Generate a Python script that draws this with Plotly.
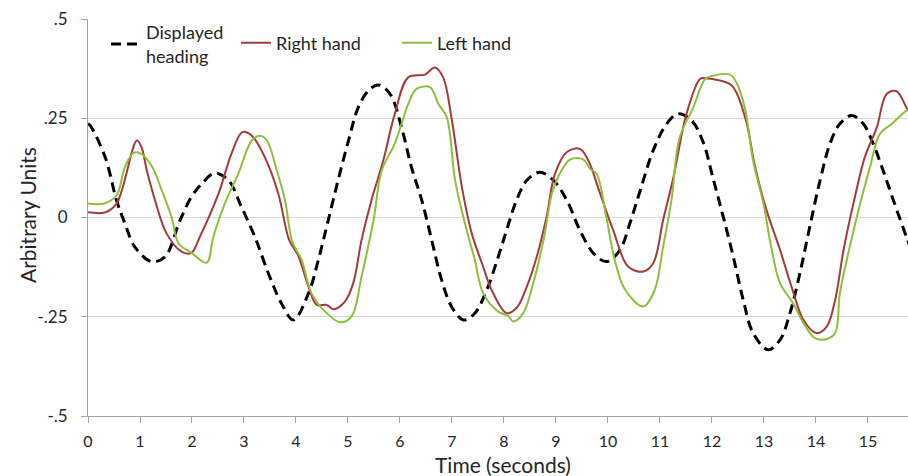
import plotly.graph_objects as go

# ---------------- data ----------------
heading_t = [0.0, 0.04, 0.33, 0.55, 0.71, 0.90, 1.22, 1.48, 1.77, 1.99, 2.19, 2.44, 2.70, 2.95,
             3.21, 3.47, 3.72, 3.95, 4.24, 4.43, 4.62, 4.81, 5.01, 5.20, 5.39, 5.58, 5.81,
             6.03, 6.22, 6.42, 6.61, 6.80, 6.99, 7.22, 7.44, 7.67, 7.89, 8.06, 8.24, 8.44,
             8.69, 8.95, 9.21, 9.46, 9.72, 9.97, 10.23, 10.42, 10.62, 10.87, 11.13, 11.35,
             11.61, 11.83, 12.03, 12.22, 12.41, 12.60, 12.79, 13.08, 13.31, 13.50, 13.69,
             13.88, 14.08, 14.27, 14.46, 14.69, 14.91, 15.10, 15.29, 15.49, 15.74, 15.80]
heading_v = [0.236, 0.232, 0.152, 0.043, -0.015, -0.074, -0.111, -0.099, -0.007, 0.052, 0.085,
             0.112, 0.094, 0.027, -0.049, -0.141, -0.216, -0.258, -0.191, -0.107, -0.007,
             0.094, 0.194, 0.278, 0.319, 0.334, 0.311, 0.227, 0.127, 0.043, -0.057, -0.157,
             -0.224, -0.258, -0.241, -0.182, -0.099, -0.028, 0.043, 0.094, 0.114, 0.094,
             0.043, -0.032, -0.090, -0.111, -0.082, -0.015, 0.068, 0.169, 0.236, 0.261,
             0.244, 0.190, 0.094, 0.0, -0.099, -0.207, -0.291, -0.333, -0.308, -0.241,
             -0.141, -0.024, 0.094, 0.186, 0.236, 0.257, 0.236, 0.186, 0.119, 0.043, -0.049,
             -0.070]

right_t = [0.0, 0.33, 0.55, 0.94, 1.03, 1.13, 1.29, 1.51, 1.80, 1.99, 2.15, 2.51, 2.76, 2.97,
           3.15, 3.40, 3.66, 3.87, 4.04, 4.24, 4.40, 4.59, 4.72, 4.94, 5.10, 5.26, 5.45,
           5.68, 5.90, 6.16, 6.48, 6.67, 6.83, 6.99, 7.19, 7.38, 7.60, 7.76, 8.05, 8.24,
           8.44, 8.63, 8.82, 8.98, 9.21, 9.46, 9.62, 9.85, 10.10, 10.39, 10.68, 10.87,
           11.06, 11.26, 11.51, 11.77, 11.87, 12.35, 12.47, 12.67, 12.83, 13.05, 13.31,
           13.53, 13.76, 14.01, 14.21, 14.37, 14.53, 14.72, 14.94, 15.17, 15.36, 15.55,
           15.74, 15.80]
right_v = [0.013, 0.013, 0.035, 0.194, 0.177, 0.119, 0.043, -0.040, -0.086, -0.089, -0.049,
           0.060, 0.161, 0.215, 0.206, 0.152, 0.060, -0.057, -0.095, -0.174, -0.220, -0.220,
           -0.231, -0.212, -0.166, -0.057, 0.043, 0.144, 0.261, 0.353, 0.360, 0.378, 0.353,
           0.252, 0.077, -0.040, -0.124, -0.182, -0.241, -0.228, -0.174, -0.099, 0.002,
           0.110, 0.165, 0.173, 0.144, 0.060, -0.032, -0.124, -0.136, -0.115, -0.007, 0.102,
           0.261, 0.349, 0.351, 0.336, 0.315, 0.236, 0.127, 0.018, -0.082, -0.174, -0.258,
           -0.291, -0.274, -0.207, -0.082, 0.035, 0.152, 0.227, 0.311, 0.318, 0.277, 0.265]

left_t = [0.0, 0.33, 0.55, 0.71, 0.87, 1.00, 1.22, 1.42, 1.61, 1.74, 1.99, 2.28, 2.41, 2.63,
          2.89, 3.15, 3.31, 3.44, 3.63, 3.79, 3.92, 4.04, 4.11, 4.30, 4.56, 4.85, 5.07, 5.26,
          5.49, 5.65, 5.90, 6.16, 6.32, 6.58, 6.74, 6.90, 7.06, 7.25, 7.44, 7.60, 7.89, 8.08,
          8.18, 8.37, 8.56, 8.76, 8.92, 9.04, 9.27, 9.53, 9.65, 9.78, 9.97, 10.13, 10.33,
          10.68, 10.90, 11.06, 11.22, 11.38, 11.64, 11.87, 12.05, 12.35, 12.47, 12.63, 12.79,
          12.99, 13.15, 13.31, 13.56, 13.76, 13.98, 14.21, 14.37, 14.46, 14.65, 14.85, 15.04,
          15.23, 15.46, 15.74, 15.80]
left_v = [0.035, 0.036, 0.056, 0.127, 0.162, 0.162, 0.131, 0.068, 0.0, -0.065, -0.089, -0.114,
          -0.049, 0.035, 0.110, 0.194, 0.206, 0.194, 0.119, 0.043, -0.057, -0.090, -0.107,
          -0.191, -0.237, -0.264, -0.249, -0.149, -0.007, 0.119, 0.186, 0.286, 0.324, 0.328,
          0.286, 0.252, 0.094, -0.015, -0.107, -0.191, -0.237, -0.248, -0.262, -0.241, -0.166,
          -0.057, 0.060, 0.102, 0.146, 0.146, 0.123, 0.110, 0.0, -0.107, -0.182, -0.224,
          -0.182, -0.074, 0.043, 0.202, 0.277, 0.349, 0.358, 0.360, 0.340, 0.277, 0.144, 0.035,
          -0.082, -0.166, -0.216, -0.266, -0.304, -0.306, -0.291, -0.191, -0.074, 0.035, 0.127,
          0.211, 0.236, 0.269, 0.272]

x_ticks = list(range(0, 16))
y_ticks = [-0.5, -0.25, 0, 0.25, 0.5]
y_tick_text = ["-.5", "-.25", "0", ".25", ".5"]

names = ["Displayed<br>heading", "Right hand", "Left hand"]
x_title = "Time (seconds)"
y_title = "Arbitrary Units"

# ---------------- figure ----------------
FONT = "Lato"
TXT = "#262626"
W, H = 908, 476
ML, MR, MT, MB = 88, 0, 19, 60
plot_h = H - MT - MB
plot_w = W - ML - MR

fig = go.Figure()
fig.add_trace(go.Scatter(x=heading_t, y=heading_v, mode="lines", name=names[0],
                         line=dict(color="#000000", width=3, dash="10px,6px", shape="spline"),
                         legend="legend"))
fig.add_trace(go.Scatter(x=right_t, y=right_v, mode="lines", name=names[1],
                         line=dict(color="#A63A3A", width=2, shape="spline"),
                         legend="legend2"))
fig.add_trace(go.Scatter(x=left_t, y=left_v, mode="lines", name=names[2],
                         line=dict(color="#8DBE3C", width=2, shape="spline"),
                         legend="legend3"))

def px2paper_x(px):
    return (px - ML) / plot_w

def py2paper_y(py):
    return (H - MB - py) / plot_h

leg_common = dict(orientation="v", yanchor="middle", xanchor="left",
                  bgcolor="rgba(0,0,0,0)", borderwidth=0,
                  font=dict(family=FONT, size=18, color=TXT), valign="middle",
                  tracegroupgap=0)

fig.update_layout(
    width=W, height=H,
    margin=dict(l=ML, r=MR, t=MT, b=MB),
    paper_bgcolor="white", plot_bgcolor="white",
    showlegend=True,
    legend=dict(x=px2paper_x(106), y=py2paper_y(44), **leg_common),
    legend2=dict(x=px2paper_x(236), y=py2paper_y(43), **leg_common),
    legend3=dict(x=px2paper_x(397), y=py2paper_y(43), **leg_common),
    xaxis=dict(range=[0, 15.77], tickvals=x_ticks, ticktext=[str(v) for v in x_ticks],
               showgrid=False, zeroline=False, showline=True, linecolor="#A6A6A6",
               linewidth=1, ticks="outside", ticklen=6, tickcolor="#A6A6A6",
               tickfont=dict(family=FONT, size=16, color=TXT), ticklabelstandoff=5),
    yaxis=dict(range=[-0.5, 0.5], tickvals=y_ticks, ticktext=y_tick_text,
               showgrid=True, gridcolor="#D9D9D9", gridwidth=1, zeroline=False,
               showline=True, linecolor="#A6A6A6", linewidth=1, ticks="outside",
               ticklen=6, tickcolor="#A6A6A6",
               tickfont=dict(family=FONT, size=17, color=TXT), ticklabelstandoff=10),
    annotations=[
        dict(text=x_title, xref="paper", yref="paper", x=px2paper_x(503), y=py2paper_y(464),
             xanchor="center", yanchor="middle", showarrow=False,
             font=dict(family=FONT, size=21, color=TXT)),
        dict(text=y_title, xref="paper", yref="paper", x=px2paper_x(27), y=py2paper_y(215),
             xanchor="center", yanchor="middle", showarrow=False, textangle=-90,
             font=dict(family=FONT, size=21, color=TXT)),
    ],
)

fig.write_html("out.html", config={"displayModeBar": False},
               post_script="document.body.style.margin='0';document.body.style.overflow='hidden';")
